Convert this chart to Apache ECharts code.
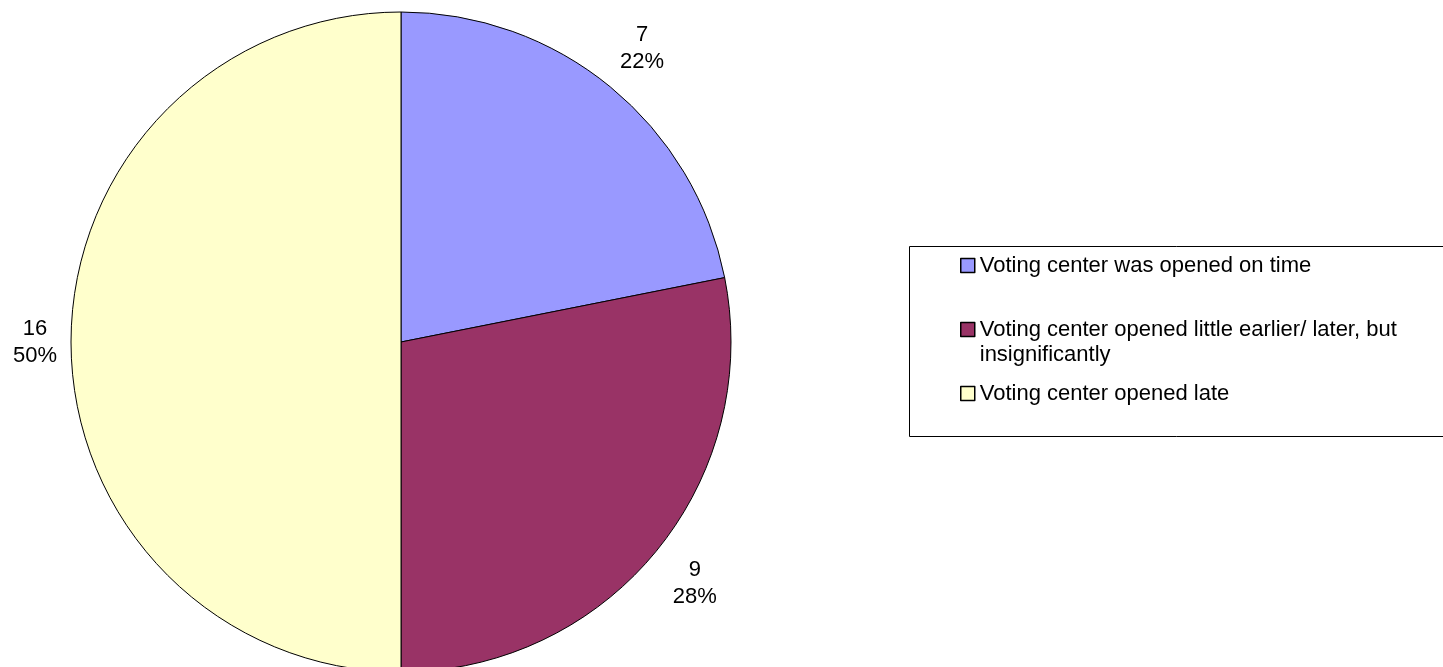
<!DOCTYPE html>
<html>
<head>
<meta charset="utf-8">
<script src="https://cdn.jsdelivr.net/npm/echarts@6/dist/echarts.min.js"></script>
<style>
html,body{margin:0;padding:0;background:#fff;}
#chart{width:1443px;height:667px;}
</style>
</head>
<body>
<div id="chart"></div>
<script>
const categories = [
  'Voting center was opened on time',
  'Voting center opened little earlier/ later, but insignificantly',
  'Voting center opened late'
];
const values = [7, 9, 16];
const colors = ['#9999FF', '#993366', '#FFFFCC'];
const labelLengths = [50, 50, 36];
const legendTops = [253, 292, 381];

const FONT = "'Liberation Sans', Arial, sans-serif";
const chart = echarts.init(document.getElementById('chart'));

const pieData = categories.map((name, i) => ({
  name: name,
  value: values[i],
  itemStyle: { color: colors[i] },
  labelLine: { show: false, length: labelLengths[i], length2: 0 }
}));

const legends = categories.map((name, i) => ({
  orient: 'vertical',
  left: 960,
  top: legendTops[i],
  padding: 0,
  itemWidth: 14,
  itemHeight: 14,
  icon: 'rect',
  selectedMode: false,
  itemStyle: { borderColor: '#000', borderWidth: 1.5 },
  data: [name],
  formatter: i === 1 ? function (n) { return '\n' + n; } : '{name}',
  textStyle: i === 1 ? {
    fontFamily: FONT, fontSize: 22, color: '#000', lineHeight: 25,
    width: 430, overflow: 'break'
  } : {
    fontFamily: FONT, fontSize: 22, color: '#000', lineHeight: 25
  }
}));

chart.setOption({
  animation: false,
  backgroundColor: '#fff',
  legend: legends,
  graphic: [{
    type: 'rect',
    shape: { x: 909.5, y: 246.5, width: 545, height: 190 },
    style: { fill: 'none', stroke: '#000', lineWidth: 1 },
    silent: true
  }],
  series: [{
    type: 'pie',
    center: [401, 342],
    radius: 330,
    startAngle: 90,
    clockwise: true,
    avoidLabelOverlap: false,
    percentPrecision: 0,
    emphasis: { disabled: true },
    itemStyle: { borderColor: '#000', borderWidth: 1 },
    label: {
      show: true,
      position: 'outside',
      formatter: '{c}\n{d}%',
      fontFamily: FONT,
      fontSize: 22,
      lineHeight: 27,
      color: '#000',
      distanceToLabelLine: 0
    },
    labelLine: { show: false, length: 50, length2: 0 },
    labelLayout: function () { return { align: 'center' }; },
    data: pieData
  }]
});
</script>
</body>
</html>
